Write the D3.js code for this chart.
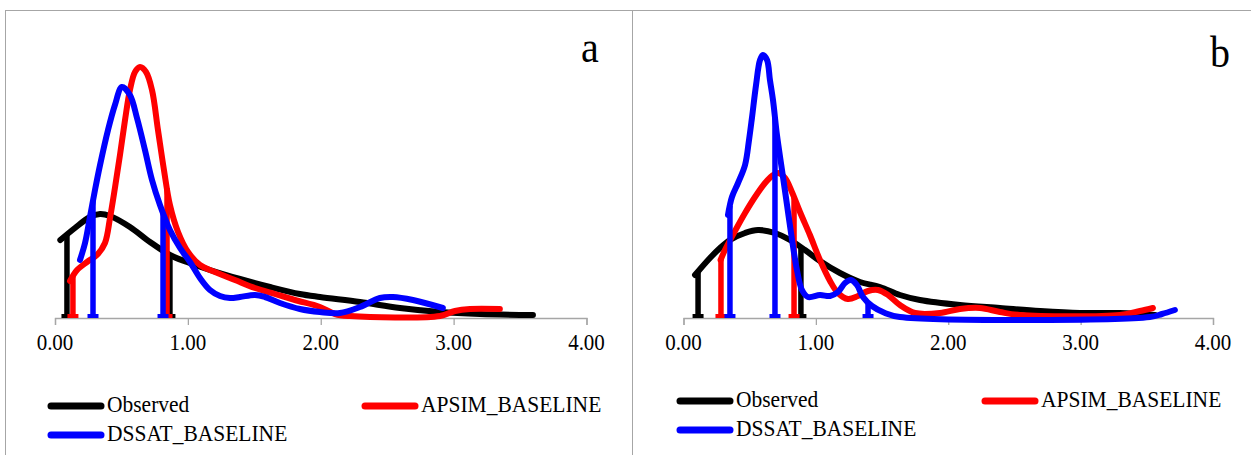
<!DOCTYPE html>
<html><head><meta charset="utf-8">
<script src="https://cdn.jsdelivr.net/npm/d3@7"></script>
<style>html,body{margin:0;padding:0;background:#fff;}svg{display:block;}</style>
</head><body>
<svg id="chart" width="1251" height="455"></svg>
<script>
// ---------- data ----------
const xTicks = [0, 1, 2, 3, 4];
const tickLabels = ["0.00", "1.00", "2.00", "3.00", "4.00"];
const seriesNames = ["Observed", "APSIM_BASELINE", "DSSAT_BASELINE"];
const seriesColors = ["#000000", "#ff0000", "#0000ff"];
const panelLabels = ["a", "b"];

// Panel a density curves [x, density]
const observedA = [[0.04,0.78],[0.15,0.90],[0.263,1.01],[0.339,1.04],[0.414,1.02],[0.564,0.91],[0.715,0.76],[0.865,0.63],[0.993,0.56],[1.166,0.48],[1.392,0.39],[1.618,0.31],[1.843,0.24],[1.994,0.21],[2.295,0.16],[2.596,0.10],[2.897,0.06],[3.198,0.04],[3.597,0.03]];
const apsimA = [[0.113,0.37],[0.166,0.48],[0.241,0.56],[0.316,0.63],[0.376,0.75],[0.414,1.00],[0.451,1.30],[0.489,1.63],[0.527,1.98],[0.564,2.28],[0.602,2.46],[0.640,2.51],[0.685,2.46],[0.730,2.28],[0.775,1.88],[0.820,1.48],[0.865,1.13],[0.926,0.86],[1.001,0.66],[1.091,0.53],[1.204,0.46],[1.354,0.38],[1.505,0.30],[1.655,0.24],[1.806,0.18],[1.994,0.11],[2.107,0.04],[2.220,0.02],[2.897,0.02],[3.010,0.07],[3.123,0.09],[3.348,0.09]];
const dssatA = [[0.188,0.58],[0.226,0.75],[0.263,1.01],[0.301,1.28],[0.339,1.53],[0.399,1.88],[0.451,2.13],[0.504,2.31],[0.564,2.23],[0.617,2.00],[0.677,1.68],[0.730,1.38],[0.790,1.13],[0.865,0.88],[0.941,0.70],[1.016,0.56],[1.091,0.40],[1.166,0.28],[1.242,0.22],[1.317,0.20],[1.392,0.21],[1.505,0.23],[1.580,0.21],[1.693,0.15],[1.843,0.09],[1.994,0.06],[2.144,0.05],[2.295,0.11],[2.445,0.20],[2.543,0.21],[2.694,0.18],[2.919,0.10]];

// Panel b density curves
const observedB = [[0.087,0.43],[0.200,0.60],[0.276,0.70],[0.351,0.78],[0.465,0.85],[0.563,0.88],[0.691,0.85],[0.804,0.78],[0.918,0.68],[1.031,0.57],[1.182,0.45],[1.333,0.36],[1.484,0.31],[1.635,0.23],[1.786,0.18],[2.088,0.13],[2.390,0.10],[2.693,0.07],[2.995,0.05],[3.297,0.05],[3.561,0.03]];
const apsimB = [[0.28,0.58],[0.313,0.68],[0.389,0.87],[0.465,1.05],[0.540,1.21],[0.616,1.35],[0.668,1.42],[0.714,1.45],[0.767,1.40],[0.819,1.26],[0.880,1.06],[0.955,0.83],[1.031,0.58],[1.107,0.37],[1.167,0.25],[1.242,0.19],[1.318,0.22],[1.394,0.27],[1.469,0.28],[1.545,0.23],[1.635,0.13],[1.749,0.05],[1.937,0.05],[2.088,0.09],[2.239,0.10],[2.390,0.06],[2.541,0.03],[3.297,0.03],[3.448,0.07],[3.546,0.10]];
const dssatB = [[0.336,1.03],[0.366,1.21],[0.412,1.35],[0.465,1.53],[0.495,1.78],[0.517,2.00],[0.548,2.33],[0.578,2.58],[0.600,2.63],[0.631,2.58],[0.653,2.38],[0.676,2.18],[0.706,1.83],[0.744,1.48],[0.782,1.13],[0.820,0.78],[0.857,0.48],[0.895,0.28],[0.940,0.21],[1.031,0.23],[1.107,0.22],[1.167,0.26],[1.220,0.35],[1.265,0.38],[1.310,0.33],[1.356,0.21],[1.424,0.12],[1.522,0.05],[1.635,0.01],[3.523,0.01],[3.614,0.04],[3.712,0.08]];

// Marker (drop line) positions on the x axis
const observedDropsA = [0.09, 0.865];
const apsimDropsA = [0.135, 0.843];
const dssatDropsA = [0.286, 0.813];
const observedDropsB = [0.11, 0.887];
const apsimDropsB = [0.283, 0.835];
const dssatDropsB = [0.351, 0.691, 1.394];

// ---------- drawing ----------
const svg = d3.select("#chart");
const FONT = "Liberation Serif";
const baseY = 318;

function interp(series, x) {
  for (let i = 0; i < series.length - 1; i++) {
    const [x0, y0] = series[i], [x1, y1] = series[i + 1];
    if (x >= x0 && x <= x1) return y0 + (y1 - y0) * (x - x0) / (x1 - x0);
  }
  return x < series[0][0] ? series[0][1] : series[series.length - 1][1];
}

function addText(g, x, y, str, size, anchor) {
  g.append("text")
    .attr("transform", `translate(${x},${y}) scale(1,1.12)`)
    .attr("font-family", FONT)
    .attr("font-size", size)
    .attr("text-anchor", anchor || "start")
    .attr("fill", "#000")
    .text(str);
}

const panels = [
  { frame: [5.5, 10.5, 627, 470], range: [55, 586.5], curves: [observedA, apsimA, dssatA], drops: [observedDropsA, apsimDropsA, dssatDropsA],
    label: [581, 62], legend: { c1: 48, c2: 362, r1: 406, r2: 435, dy: 6 } },
  { frame: [632.5, 10.5, 640, 470], range: [683.5, 1213], curves: [observedB, apsimB, dssatB], drops: [observedDropsB, apsimDropsB, dssatDropsB],
    label: [1210, 67], legend: { c1: 677, c2: 982, r1: 401, r2: 430, dy: 6 } }
];

const y = d3.scaleLinear().domain([0, 2.5]).range([baseY, 68]);

panels.forEach((p, pi) => {
  const g = svg.append("g");
  g.append("rect").attr("x", p.frame[0]).attr("y", p.frame[1]).attr("width", p.frame[2]).attr("height", p.frame[3])
    .attr("fill", "none").attr("stroke", "#a6a6a6").attr("stroke-width", 1);

  const x = d3.scaleLinear().domain([0, 4]).range(p.range);

  // axis
  const axis = d3.axisBottom(x).tickValues(xTicks).tickSize(7).tickFormat((d, i) => tickLabels[i]);
  const ag = g.append("g").attr("transform", `translate(0,${baseY})`).call(axis);
  ag.select(".domain").attr("stroke", "#a6a6a6").attr("stroke-width", 1.3);
  ag.selectAll(".tick line").attr("stroke", "#a6a6a6").attr("stroke-width", 1.3);
  ag.selectAll(".tick text").remove();
  xTicks.forEach((t, i) => addText(g, x(t), 350, tickLabels[i], 21, "middle"));

  const line = d3.line().x(d => x(d[0])).y(d => y(d[1])).curve(d3.curveCatmullRom.alpha(0.5));

  p.curves.forEach((c, si) => {
    const col = seriesColors[si];
    // drop lines
    p.drops[si].forEach(dx => {
      const top = interp(c, dx);
      g.append("line").attr("x1", x(dx)).attr("x2", x(dx)).attr("y1", y(top)).attr("y2", y(0) - 1)
        .attr("stroke", col).attr("stroke-width", 5.5);
      g.append("line").attr("x1", x(dx) - 5.5).attr("x2", x(dx) + 5.5).attr("y1", y(0) - 2).attr("y2", y(0) - 2)
        .attr("stroke", col).attr("stroke-width", 4);
    });
    g.append("path").datum(c).attr("d", line).attr("fill", "none").attr("stroke", col)
      .attr("stroke-width", 6).attr("stroke-linecap", "round").attr("stroke-linejoin", "round");
  });

  // panel label
  addText(g, p.label[0], p.label[1], panelLabels[pi], 40, "start");

  // legend
  const L = p.legend;
  const pos = [[L.c1, L.r1], [L.c2, L.r1], [L.c1, L.r2]];
  seriesNames.forEach((n, si) => {
    const [lx, ly] = pos[si];
    g.append("line").attr("x1", lx + 3).attr("x2", lx + 53).attr("y1", ly).attr("y2", ly)
      .attr("stroke", seriesColors[si]).attr("stroke-width", 7).attr("stroke-linecap", "round");
    addText(g, lx + 59, ly + L.dy, n, 21.5, "start");
  });
});
</script>
</body></html>
